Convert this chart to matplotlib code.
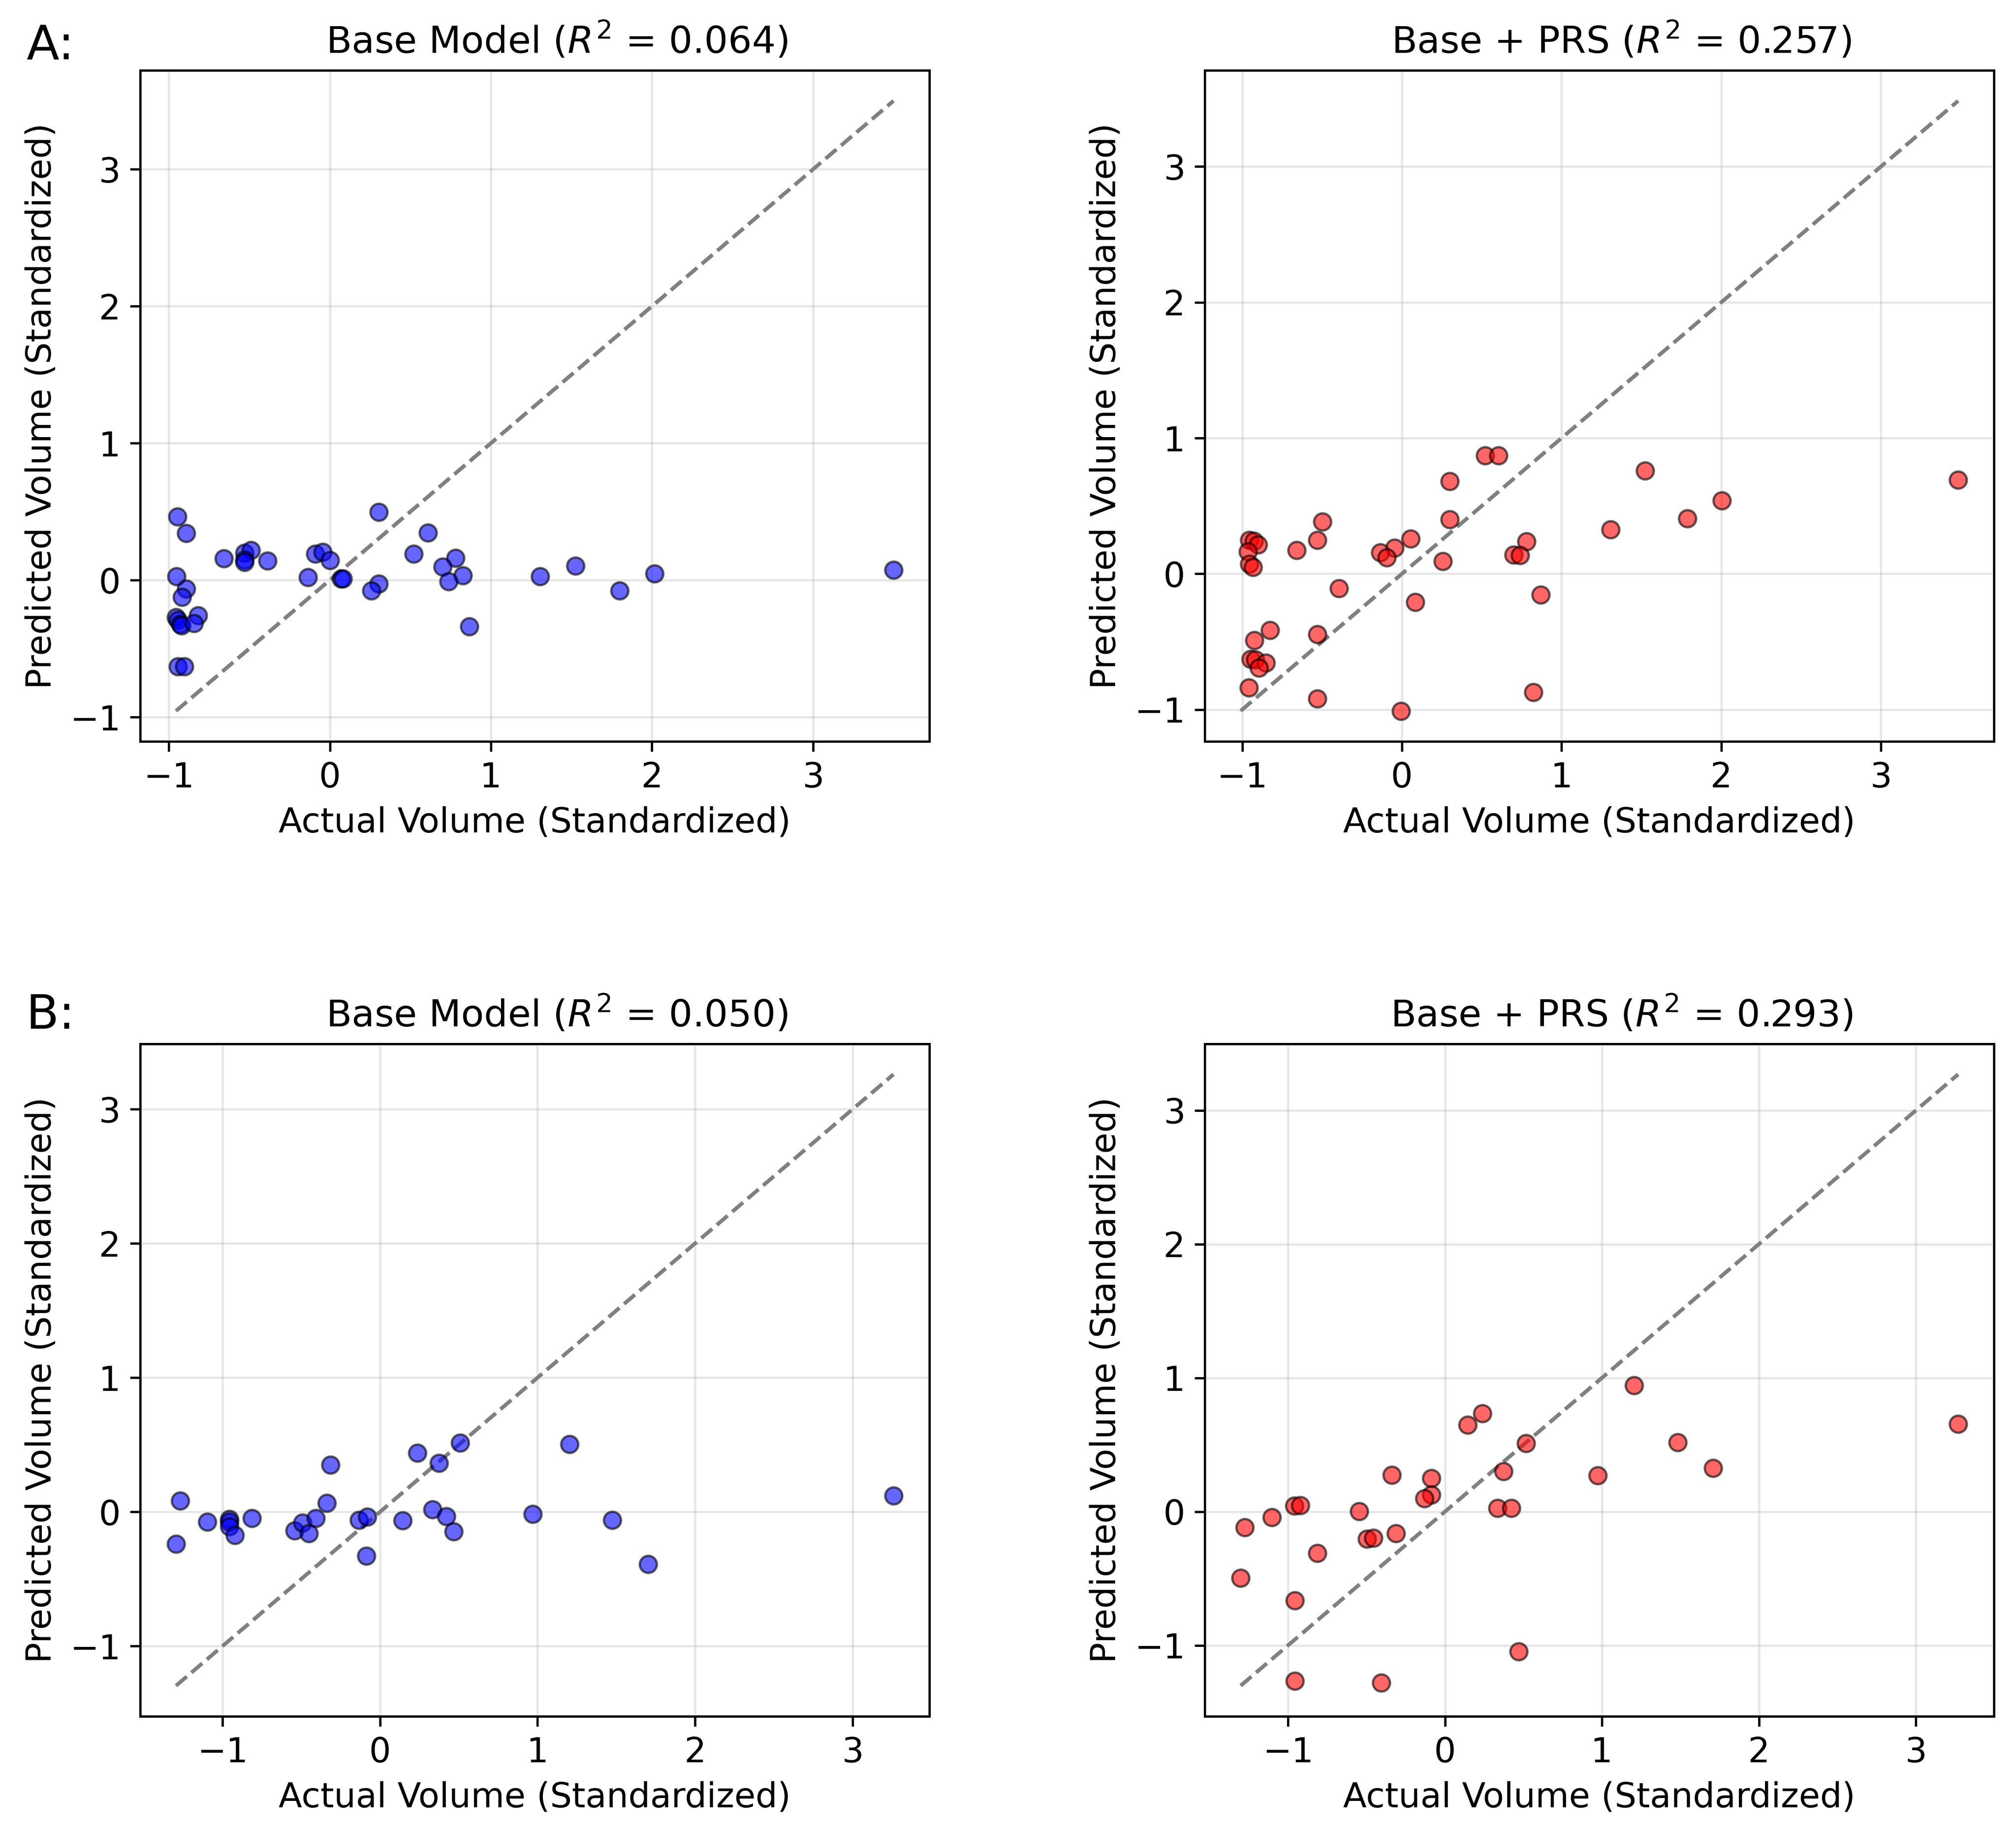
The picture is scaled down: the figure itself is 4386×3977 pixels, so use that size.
import numpy as np
import matplotlib
matplotlib.use("Agg")
import matplotlib.pyplot as plt

# panel A - actual vs predicted
a_base_actual = [-0.947, -0.893, -0.657, -0.53, -0.49, -0.53, -0.53, -0.387, -0.09, -0.045,
                 0.0, -0.136, 0.07, 0.08, 0.303, 0.303, 0.258, 0.608, 0.521, 0.78,
                 0.702, 0.826, 0.739, 0.867, 1.307, 1.524, -0.953, -0.893, -0.917, -0.955,
                 -0.944, -0.93, -0.92, -0.817, -0.844, -0.944, -0.902, 1.8, 2.016, 3.5]
a_base_pred = [0.465, 0.342, 0.159, 0.20, 0.22, 0.15, 0.13, 0.14, 0.193, 0.207,
               0.146, 0.02, 0.01, 0.01, 0.498, -0.026, -0.078, 0.348, 0.192, 0.163,
               0.097, 0.034, -0.009, -0.34, 0.026, 0.106, 0.026, -0.062, -0.125, -0.27,
               -0.29, -0.32, -0.33, -0.258, -0.314, -0.632, -0.632, -0.075, 0.047, 0.075]

a_prs_actual = [0.52, 0.606, 1.524, 0.30, 0.30, -0.498, 1.307, -0.531, -0.66, 0.055,
                -0.046, -0.135, -0.094, 0.256, 0.78, 0.70, 0.74, -0.955, -0.927, -0.90,
                -0.964, -0.955, -0.933, -0.393, 0.083, 0.87, -0.826, -0.531, -0.923, -0.946,
                -0.918, -0.853, -0.894, -0.958, -0.531, -0.005, 0.824, 1.787, 2.005, 3.484]
a_prs_pred = [0.87, 0.87, 0.761, 0.683, 0.402, 0.385, 0.327, 0.249, 0.175, 0.26,
              0.19, 0.156, 0.12, 0.094, 0.238, 0.14, 0.136, 0.249, 0.242, 0.214,
              0.164, 0.073, 0.05, -0.106, -0.207, -0.156, -0.416, -0.444, -0.491, -0.627,
              -0.631, -0.655, -0.694, -0.839, -0.92, -1.01, -0.873, 0.408, 0.541, 0.693]

# panel B
b_base_actual = [-1.268, -1.295, -1.096, -0.956, -0.956, -0.956, -0.921, -0.812, -0.541, -0.493,
                 -0.452, -0.407, -0.339, -0.314, -0.134, -0.082, -0.086, 0.144, 0.236, 0.374,
                 0.51, 0.335, 0.421, 0.467, 0.97, 1.202, 1.474, 1.701, 3.26]
b_base_pred = [0.083, -0.239, -0.075, -0.055, -0.075, -0.107, -0.173, -0.048, -0.14, -0.081,
               -0.16, -0.048, 0.066, 0.349, -0.062, -0.035, -0.328, -0.064, 0.439, 0.364,
               0.515, 0.017, -0.033, -0.147, -0.016, 0.505, -0.062, -0.389, 0.122]

b_prs_actual = [1.205, 0.237, 0.144, 0.515, 1.483, -0.34, -0.087, 0.373, 0.974, -0.087,
                -0.132, -0.959, -0.921, -1.102, -1.275, -0.546, 0.336, 0.422, -0.498, -0.457,
                -0.313, -0.812, -1.302, -0.958, 0.47, -0.958, -0.406, 1.709, 3.27]
b_prs_pred = [0.945, 0.734, 0.649, 0.511, 0.518, 0.273, 0.249, 0.303, 0.269, 0.126,
              0.097, 0.045, 0.048, -0.041, -0.118, 0.004, 0.025, 0.025, -0.203, -0.197,
              -0.163, -0.31, -0.495, -0.664, -1.046, -1.266, -1.279, 0.327, 0.654]

titles = ["Base Model ($R^2$ = 0.064)", "Base + PRS ($R^2$ = 0.257)",
          "Base Model ($R^2$ = 0.050)", "Base + PRS ($R^2$ = 0.293)"]
panel_labels = ["A:", "B:"]

plt.rcParams['font.family'] = ['DejaVu Sans']
plt.rcParams['axes.linewidth'] = 1.2
plt.rcParams['xtick.major.width'] = 1.2
plt.rcParams['ytick.major.width'] = 1.2
plt.rcParams['xtick.major.size'] = 5.2
plt.rcParams['ytick.major.size'] = 5.2
plt.rcParams['xtick.major.pad'] = 5
plt.rcParams['ytick.major.pad'] = 5

fig = plt.figure(figsize=(4386 / 300, 3977 / 300), dpi=300)

positions = [[0.0695, 0.5944, 0.3915, 0.3671], [0.5976, 0.5944, 0.3915, 0.3671],
             [0.0695, 0.0611, 0.3915, 0.3679], [0.5976, 0.0611, 0.3915, 0.3679]]
data = [(a_base_actual, a_base_pred, 'blue'), (a_prs_actual, a_prs_pred, 'red'),
        (b_base_actual, b_base_pred, 'blue'), (b_prs_actual, b_prs_pred, 'red')]

for pos, (act, pred, col), title in zip(positions, data, titles):
    ax = fig.add_axes(pos)
    act = np.array(act)
    pred = np.array(pred)
    ax.scatter(act, pred, s=80, c=col, alpha=0.6, edgecolors='black', linewidths=1.2, zorder=3)
    lo = min(act.min(), pred.min())
    hi = max(act.max(), pred.max())
    ax.plot([lo, hi], [lo, hi], '--', color='gray', lw=2.0, zorder=2)
    # title sits a bit right of centre in the original
    ax.set_title(title, fontsize=19.5, pad=9, x=0.528)
    ax.set_xlabel("Actual Volume (Standardized)", fontsize=18, labelpad=6)
    ax.set_ylabel("Predicted Volume (Standardized)", fontsize=18, labelpad=6)
    ax.tick_params(labelsize=18)
    ax.grid(True, alpha=0.3, lw=1.2)
    ax.set_axisbelow(True)

fig.text(0.013, 0.9678, panel_labels[0], fontsize=25)
fig.text(0.013, 0.4373, panel_labels[1], fontsize=25)

fig.savefig("out.png", dpi=300)
